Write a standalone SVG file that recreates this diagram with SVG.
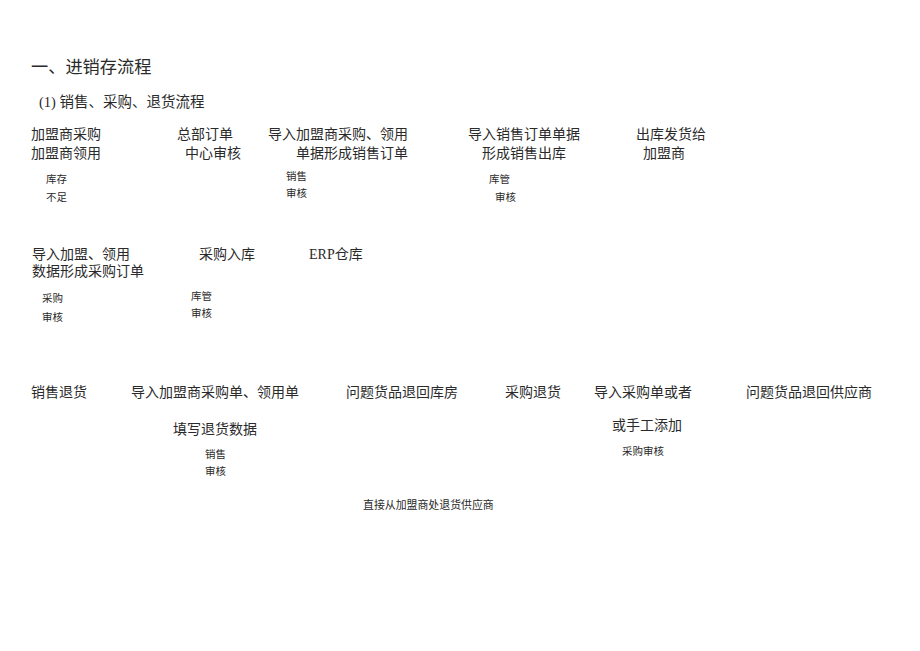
<svg xmlns="http://www.w3.org/2000/svg" width="920" height="651" viewBox="0 0 920 651">
<style>
text{font-family:"Liberation Serif","Noto Sans CJK SC",serif;fill:#2a2a2a;}
.t{font-size:17.2px;}
.s{font-size:14.5px;}
.m{font-size:14px;}
.n{font-size:10.5px;}
.w{font-size:10.9px;}
</style>
<rect width="920" height="651" fill="#fff"/>
<text class="t" x="31" y="73">一、进销存流程</text>
<text class="s" x="39" y="107">(1) 销售、采购、退货流程</text>
<g id="n1"><text class="m" x="31" y="139">加盟商采购</text><text class="m" x="31" y="158">加盟商领用</text></g>
<g id="n2"><text class="m" x="177" y="139">总部订单</text><text class="m" x="185" y="158">中心审核</text></g>
<g id="n3"><text class="m" x="268" y="139">导入加盟商采购、领用</text><text class="m" x="296" y="158">单据形成销售订单</text></g>
<g id="n4"><text class="m" x="468" y="139">导入销售订单单据</text><text class="m" x="482" y="158">形成销售出库</text></g>
<g id="n5"><text class="m" x="636" y="139">出库发货给</text><text class="m" x="643" y="158">加盟商</text></g>
<g id="l1"><text class="n" x="46" y="183">库存</text><text class="n" x="46" y="201">不足</text></g>
<g id="l2"><text class="n" x="286" y="180">销售</text><text class="n" x="286" y="197">审核</text></g>
<g id="l3"><text class="n" x="489" y="183">库管</text><text class="n" x="495" y="201">审核</text></g>
<g id="n6"><text class="m" x="32" y="259">导入加盟、领用</text><text class="m" x="32" y="276">数据形成采购订单</text></g>
<g id="n7"><text class="m" x="199" y="259">采购入库</text></g>
<g id="n8"><text class="m" x="309" y="259">ERP仓库</text></g>
<g id="l4"><text class="n" x="42" y="302">采购</text><text class="n" x="42" y="321">审核</text></g>
<g id="l5"><text class="n" x="191" y="300">库管</text><text class="n" x="191" y="317">审核</text></g>
<g id="n9"><text class="m" x="31" y="397">销售退货</text></g>
<g id="n10"><text class="m" x="131" y="397">导入加盟商采购单、领用单</text><text class="m" x="173" y="434">填写退货数据</text></g>
<g id="n11"><text class="m" x="346" y="397">问题货品退回库房</text></g>
<g id="l6"><text class="n" x="205" y="458">销售</text><text class="n" x="205" y="475">审核</text></g>
<g id="l7"><text class="w" x="363" y="509">直接从加盟商处退货供应商</text></g>
<g id="n12"><text class="m" x="505" y="397">采购退货</text></g>
<g id="n13"><text class="m" x="594" y="397">导入采购单或者</text><text class="m" x="612" y="430">或手工添加</text></g>
<g id="n14"><text class="m" x="746" y="397">问题货品退回供应商</text></g>
<g id="l8"><text class="n" x="622" y="455">采购审核</text></g>
<g id="connectors"></g>
</svg>
